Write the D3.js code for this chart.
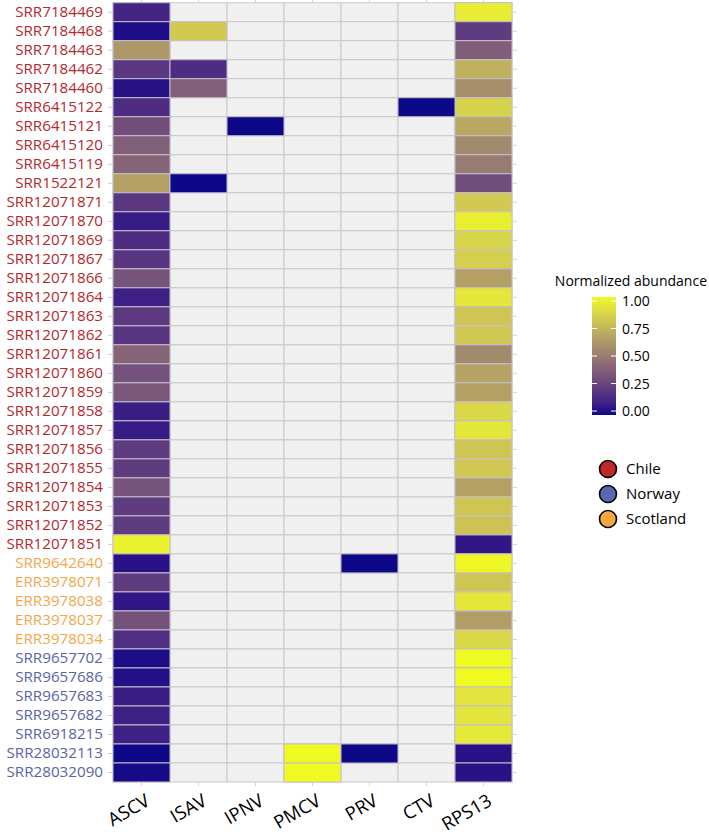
<!DOCTYPE html>
<html>
<head>
<meta charset="utf-8">
<script src="https://cdn.jsdelivr.net/npm/d3@7"></script>
<style>
	body { margin: 0; background: #fff; }
	text { font-family: "Open Sans", sans-serif; }
</style>
</head>
<body>
<div id="heatmap"></div>
<script>
// samples, top to bottom
var samples = ["SRR7184469","SRR7184468","SRR7184463","SRR7184462","SRR7184460","SRR6415122","SRR6415121","SRR6415120","SRR6415119","SRR1522121",
	"SRR12071871","SRR12071870","SRR12071869","SRR12071867","SRR12071866","SRR12071864","SRR12071863","SRR12071862","SRR12071861","SRR12071860",
	"SRR12071859","SRR12071858","SRR12071857","SRR12071856","SRR12071855","SRR12071854","SRR12071853","SRR12071852","SRR12071851",
	"SRR9642640","ERR3978071","ERR3978038","ERR3978037","ERR3978034",
	"SRR9657702","SRR9657686","SRR9657683","SRR9657682","SRR6918215","SRR28032113","SRR28032090"];
var sampleCountry = ["Chile","Chile","Chile","Chile","Chile","Chile","Chile","Chile","Chile","Chile",
	"Chile","Chile","Chile","Chile","Chile","Chile","Chile","Chile","Chile","Chile",
	"Chile","Chile","Chile","Chile","Chile","Chile","Chile","Chile","Chile",
	"Scotland","Scotland","Scotland","Scotland","Scotland",
	"Norway","Norway","Norway","Norway","Norway","Norway","Norway"];
var targets = ["ASCV","ISAV","IPNV","PMCV","PRV","CTV","RPS13"];

// normalized abundance, one per sample
var ascv = [0.12,0.02,0.62,0.2,0.04,0.15,0.3,0.38,0.4,0.65,
	0.2,0.08,0.15,0.19,0.33,0.1,0.21,0.19,0.4,0.32,
	0.34,0.09,0.08,0.22,0.22,0.33,0.22,0.22,0.97,
	0.04,0.22,0.06,0.32,0.16,
	0.02,0.03,0.09,0.1,0.1,0.0,0.01];
var rps13 = [0.95,0.22,0.37,0.72,0.58,0.85,0.68,0.56,0.5,0.3,
	0.82,0.96,0.86,0.84,0.65,0.93,0.8,0.81,0.56,0.66,
	0.65,0.87,0.93,0.8,0.81,0.65,0.8,0.79,0.06,
	0.99,0.8,0.93,0.64,0.87,
	1.0,1.0,0.92,0.92,0.94,0.04,0.04];
// sparse columns: [sample, value]
var isav = [["SRR7184468",0.82],["SRR7184462",0.15],["SRR7184460",0.38],["SRR1522121",0.0]];
var ipnv = [["SRR6415121",0.0]];
var pmcv = [["SRR28032113",1.0],["SRR28032090",1.0]];
var prv = [["SRR9642640",0.0],["SRR28032113",0.0]];
var ctv = [["SRR6415122",0.0]];

var legendTicks = [0, 0.25, 0.5, 0.75, 1];
var countries = ["Chile","Norway","Scotland"];

var w = 709, h = 837;

var cells = [];
samples.forEach(function(s, i){
	cells.push({sample: s, target: "ASCV", value: ascv[i]});
	cells.push({sample: s, target: "RPS13", value: rps13[i]});
});
[["ISAV",isav],["IPNV",ipnv],["PMCV",pmcv],["PRV",prv],["CTV",ctv]].forEach(function(t){
	t[1].forEach(function(d){ cells.push({sample: d[0], target: t[0], value: d[1]}); });
});
var blank = [];
samples.forEach(function(s){
	targets.forEach(function(t){ blank.push({sample: s, target: t}); });
});

var x = d3.scaleBand().domain(targets).range([113, 512]);
var y = d3.scaleBand().domain(samples).range([2.7, 782]);
var fill = d3.scaleLinear().domain([0, 1]).range(["#0d0887", "#f0f921"]).interpolate(d3.interpolateLab);
var countryText = d3.scaleOrdinal().domain(countries).range(["#b5282e", "#5a63a8", "#f2a74b"]);
var countryFill = d3.scaleOrdinal().domain(countries).range(["#c0272d", "#5866b4", "#f8a840"]);

var svg = d3.select("#heatmap")
	.append("svg")
	.attr("width", w)
	.attr("height", h);

svg.selectAll(".blank")
	.data(blank)
	.enter()
	.append("rect")
	.attr("class", "blank")
	.attr("x", function(d){ return x(d.target); })
	.attr("y", function(d){ return y(d.sample); })
	.attr("width", x.bandwidth())
	.attr("height", y.bandwidth())
	.attr("fill", "#f0f0f0")
	.attr("stroke", "#c9c9c9")
	.attr("stroke-width", 1);

svg.selectAll(".cell")
	.data(cells)
	.enter()
	.append("rect")
	.attr("class", "cell")
	.attr("x", function(d){ return x(d.target); })
	.attr("y", function(d){ return y(d.sample); })
	.attr("width", x.bandwidth())
	.attr("height", y.bandwidth())
	.attr("fill", function(d){ return fill(d.value); })
	.attr("stroke", "#c4c0cc")
	.attr("stroke-width", 1);

// axes
var yAxisCall = svg.append("g")
	.attr("transform", "translate(112,0)")
	.call(d3.axisLeft(y).tickSize(4).tickPadding(5));
yAxisCall.select(".domain").remove();
yAxisCall.selectAll("line").attr("stroke", "#cccccc");
yAxisCall.selectAll("text")
	.attr("font-size", 15.2)
	.attr("font-family", "Lato")
	.attr("fill", function(d, i){ return countryText(sampleCountry[i]); });

var yRight = svg.append("g")
	.attr("transform", "translate(513,0)")
	.call(d3.axisRight(y).tickSize(4).tickFormat(""));
yRight.select(".domain").remove();
yRight.selectAll("line").attr("stroke", "#d4d4d4");

var xTop = svg.append("g")
	.attr("transform", "translate(0,2)")
	.call(d3.axisTop(x).tickSize(3).tickFormat(""));
xTop.select(".domain").remove();
xTop.selectAll("line").attr("stroke", "#d4d4d4");

var xAxisCall = svg.append("g")
	.attr("transform", "translate(0,783)")
	.call(d3.axisBottom(x).tickSize(3));
xAxisCall.select(".domain").remove();
xAxisCall.selectAll("line").attr("stroke", "#d4d4d4");
xAxisCall.selectAll("text")
	.attr("x", 0)
	.attr("y", 0)
	.attr("dy", "0.71em")
	.attr("text-anchor", "end")
	.attr("transform", "translate(3,10) rotate(-30)")
	.attr("font-size", 18.5)
	.attr("font-family", "Open Sans")
	.attr("fill", "#000");

// colour bar legend
var legendY = d3.scaleLinear().domain([0, 1]).range([411, 301]);
var grad = svg.append("defs").append("linearGradient")
	.attr("id", "abundance")
	.attr("x1", "0").attr("y1", "1").attr("x2", "0").attr("y2", "0");
grad.selectAll("stop")
	.data(d3.range(0, 1.01, 0.1))
	.enter()
	.append("stop")
	.attr("offset", function(d){ return d; })
	.attr("stop-color", function(d){ return fill(d); });

svg.append("text")
	.attr("x", 707)
	.attr("y", 286)
	.attr("text-anchor", "end")
	.attr("font-size", 14)
	.text("Normalized abundance");

svg.append("rect")
	.attr("x", 592)
	.attr("y", 297)
	.attr("width", 24)
	.attr("height", 118)
	.attr("fill", "url(#abundance)");

var legTick = svg.selectAll(".legtick")
	.data(legendTicks)
	.enter()
	.append("g")
	.attr("class", "legtick")
	.attr("transform", function(d){ return "translate(0," + legendY(d) + ")"; });
legTick.append("line")
	.attr("x1", 592).attr("x2", 597)
	.attr("stroke", "#fff").attr("stroke-width", 1);
legTick.append("line")
	.attr("x1", 611).attr("x2", 616)
	.attr("stroke", "#fff").attr("stroke-width", 1);
legTick.append("text")
	.attr("x", 622)
	.attr("dy", "0.36em")
	.attr("font-size", 14)
	.text(function(d){ return d3.format(".2f")(d); });

// country legend
var countryY = d3.scalePoint().domain(countries).range([469, 519]);
var cLeg = svg.selectAll(".country")
	.data(countries)
	.enter()
	.append("g")
	.attr("class", "country")
	.attr("transform", function(d){ return "translate(608," + countryY(d) + ")"; });
cLeg.append("circle")
	.attr("r", 8.5)
	.attr("fill", function(d){ return countryFill(d); })
	.attr("stroke", "#000")
	.attr("stroke-width", 1.6);
cLeg.append("text")
	.attr("x", 18)
	.attr("dy", "0.36em")
	.attr("font-size", 15)
	.text(function(d){ return d; });
</script>
</body>
</html>
